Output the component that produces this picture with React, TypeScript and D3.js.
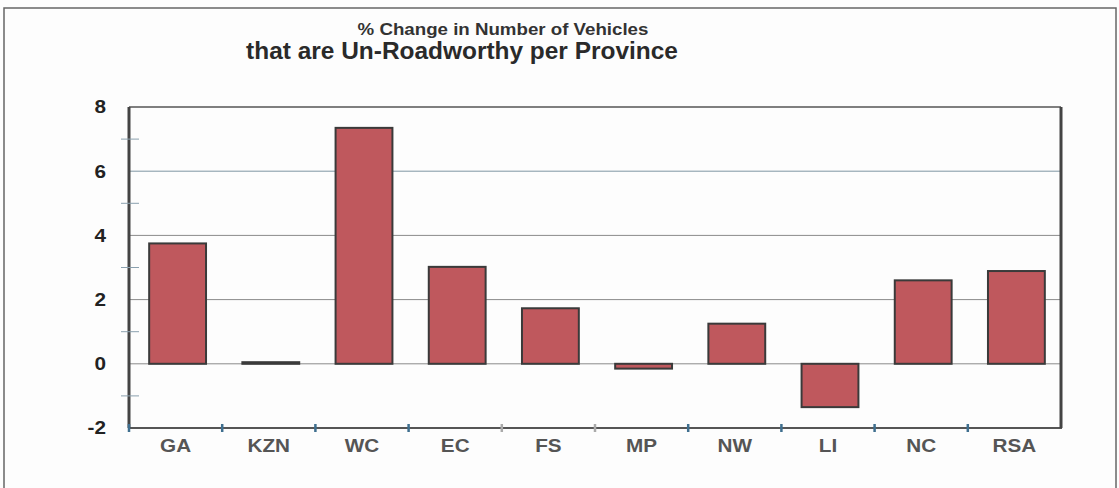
import { scaleBand, scaleLinear } from "d3";

const provinces = ["GA", "KZN", "WC", "EC", "FS", "MP", "NW", "LI", "NC", "RSA"];
const pctChange = [3.75, 0.05, 7.35, 3.02, 1.73, -0.15, 1.25, -1.35, 2.6, 2.89];
const yTicks = [-2, 0, 2, 4, 6, 8];
const yMinor = [-1, 1, 3, 5, 7];

const width = 1119;
const height = 488;
const plot = { left: 129, right: 1061, top: 107, bottom: 428 };

const font = '"Liberation Sans", Arial, Helvetica, sans-serif';
const stretch = 1.15;

function App() {
  const x = scaleBand<string>()
    .domain(provinces)
    .range([plot.left, plot.right])
    .padding(0);
  const y = scaleLinear().domain([-2, 8]).range([plot.bottom, plot.top]);

  const barW = x.bandwidth() * 0.61;
  const boundaries = provinces.map((p) => x(p) as number);

  return (
    <svg
      width={width}
      height={height}
      style={{ position: "absolute", left: 0, top: 0, display: "block" }}
      fontFamily={font}
    >
      <rect width={width} height={height} fill="#fdfdfd" />
      {/* outer chart frame */}
      <rect x={4} y={8} width={1112} height={490} fill="none" stroke="#666" strokeWidth={1.5} />

      {/* titles */}
      <g transform={`translate(503, 35) scale(1.1, 1)`}>
        <text textAnchor="middle" fontSize={17} fontWeight={700} fill="#333">
          % Change in Number of Vehicles
        </text>
      </g>
      <g transform={`translate(462, 59) scale(1.04, 1)`}>
        <text textAnchor="middle" fontSize={23.5} fontWeight={700} fill="#2a2a2a">
          that are Un-Roadworthy per Province
        </text>
      </g>

      {/* gridlines */}
      {yTicks
        .filter((t) => t !== -2 && t !== 8)
        .map((t) => (
          <line
            key={t}
            x1={plot.left}
            x2={plot.right}
            y1={y(t)}
            y2={y(t)}
            stroke={t === 6 ? "#7f95a3" : "#8a8a8a"}
            strokeWidth={1}
          />
        ))}

      {/* bars */}
      {provinces.map((p, i) => {
        const v = pctChange[i];
        const cx = (x(p) as number) + x.bandwidth() / 2 + 2;
        const y0 = y(Math.max(0, v));
        const h = Math.abs(y(v) - y(0));
        return (
          <rect
            key={p}
            x={cx - barW / 2}
            y={y0}
            width={barW}
            height={Math.max(h, 1)}
            fill="#bf585d"
            stroke="#3a3a3a"
            strokeWidth={2}
          />
        );
      })}

      {/* frame of plot area */}
      <line x1={plot.left} x2={plot.right} y1={y(8)} y2={y(8)} stroke="#555" strokeWidth={1.5} />
      <line x1={plot.left} x2={plot.right + 1} y1={y(-2)} y2={y(-2)} stroke="#555" strokeWidth={2} />
      <line x1={plot.left} x2={plot.left} y1={y(8)} y2={y(-2)} stroke="#444" strokeWidth={3} />
      <line x1={plot.right} x2={plot.right} y1={y(8)} y2={y(-2)} stroke="#444" strokeWidth={3} />

      {/* y minor ticks */}
      {yMinor.map((t) => (
        <line
          key={t}
          x1={plot.left - 8}
          x2={plot.left + 10}
          y1={y(t)}
          y2={y(t)}
          stroke="#8aa0ae"
          strokeWidth={1}
        />
      ))}

      {/* x ticks at category boundaries */}
      {boundaries.map((b, i) => (
        <line
          key={i}
          x1={b}
          x2={b}
          y1={y(-2) - 4}
          y2={y(-2) + 4}
          stroke={i === 4 || i === 5 ? "#aaa" : "#3f6f8f"}
          strokeWidth={2.5}
        />
      ))}

      {/* y labels */}
      {yTicks.map((t) => (
        <g key={t} transform={`translate(106, ${y(t)}) scale(${stretch}, 1)`}>
          <text textAnchor="end" dy="0.36em" fontSize={18} fontWeight={700} fill="#222">
            {t}
          </text>
        </g>
      ))}

      {/* x labels */}
      {provinces.map((p) => (
        <g
          key={p}
          transform={`translate(${(x(p) as number) + x.bandwidth() / 2}, 452) scale(${stretch}, 1)`}
        >
          <text textAnchor="middle" fontSize={18} fontWeight={700} fill="#555">
            {p}
          </text>
        </g>
      ))}
    </svg>
  );
}

export default App;
